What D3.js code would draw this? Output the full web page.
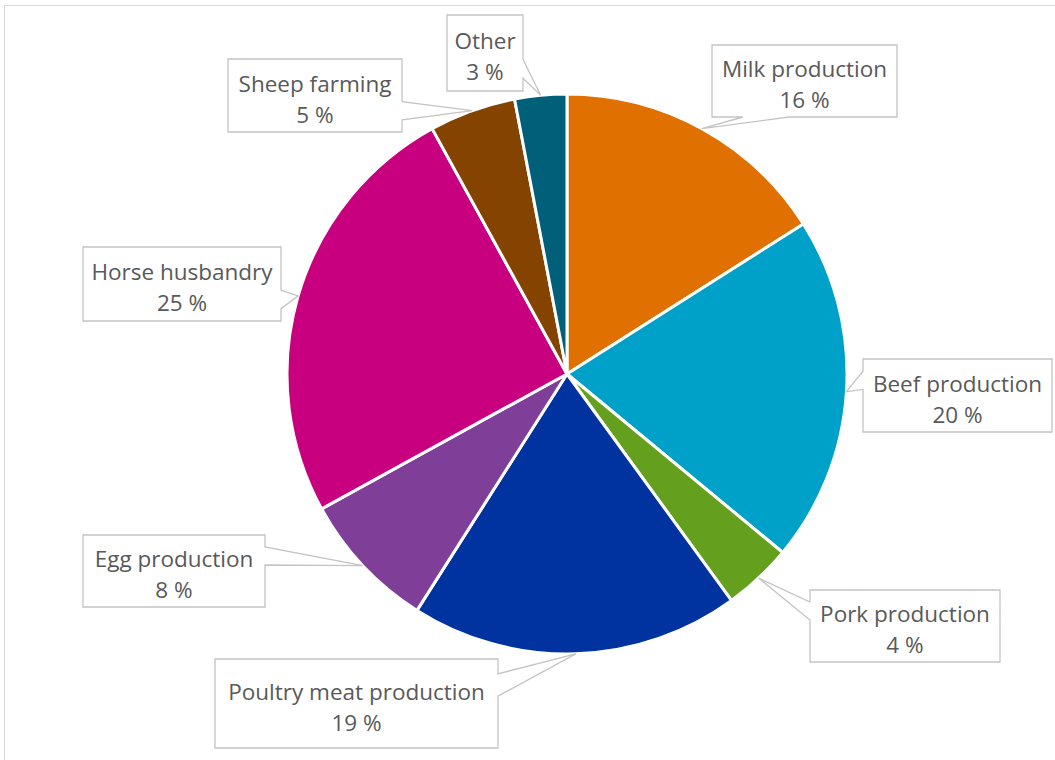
<!DOCTYPE html>
<html>
<head>
<meta charset="utf-8">
<script src="https://cdn.jsdelivr.net/npm/d3@7/dist/d3.min.js"></script>
<style>
  html, body { margin: 0; padding: 0; background: #fff; }
  svg { display: block; }
  text { font-family: "Open Sans", "Noto Sans", sans-serif; fill: #595959; }
</style>
</head>
<body>
<svg id="chart" width="1055" height="760"></svg>
<script>
// Share of holdings by production line (%)
const categories = [
  "Milk production", "Beef production", "Pork production", "Poultry meat production",
  "Egg production", "Horse husbandry", "Sheep farming", "Other"
];
const shares = [16, 20, 4, 19, 8, 25, 5, 3];
const sliceColors = ["#E07000", "#00A1C9", "#64A01E", "#0033A0", "#7F3F98", "#C8007F", "#844400", "#005F79"];

// Callout box placement [x, y, width, height], same order as categories
const calloutBoxes = [
  [712, 45, 185, 72],
  [863, 359, 189, 73],
  [810, 590, 190, 72],
  [215, 659, 283, 89],
  [83, 535, 182, 72],
  [83, 247, 198, 74],
  [228, 59, 174, 73],
  [447, 15, 76, 76]
];

const svg = d3.select("#chart");
const cx = 567, cy = 374, radius = 280;

// chart area frame
svg.append("rect")
  .attr("x", 4.5).attr("y", 5.5)
  .attr("width", 1200).attr("height", 900)
  .attr("fill", "none").attr("stroke", "#d9d9d9").attr("stroke-width", 1);

const data = categories.map((c, i) => ({ name: c, value: shares[i], color: sliceColors[i], box: calloutBoxes[i] }));

const pie = d3.pie().value(d => d.value).sort(null).startAngle(0).endAngle(2 * Math.PI);
const arcs = pie(data);
const arc = d3.arc().innerRadius(0).outerRadius(radius);

const g = svg.append("g").attr("transform", `translate(${cx},${cy})`);
g.selectAll("path.slice")
  .data(arcs)
  .join("path")
  .attr("class", "slice")
  .attr("d", arc)
  .attr("fill", d => d.data.color)
  .attr("stroke", "#fff")
  .attr("stroke-width", 3)
  .attr("stroke-linejoin", "round");

// Rectangular callout with a wedge pointing at the slice edge (wedgeRectCallout geometry)
function calloutPath(box, ax, ay) {
  const [x, y, w, h] = box;
  const hc = x + w / 2, vc = y + h / 2;
  const dx = ax - hc, dy = ay - vc;
  const dq = dx * h / w;
  const vertical = Math.abs(dy) > Math.abs(dq);
  const x1 = x + w * (dx > 0 ? 7 : 2) / 12, x2 = x + w * (dx > 0 ? 10 : 5) / 12;
  const y1 = y + h * (dy > 0 ? 7 : 2) / 12, y2 = y + h * (dy > 0 ? 10 : 5) / 12;
  const p = d3.path();
  p.moveTo(x, y);
  if (vertical && dy < 0) { p.lineTo(x1, y); p.lineTo(ax, ay); p.lineTo(x2, y); }
  p.lineTo(x + w, y);
  if (!vertical && dx > 0) { p.lineTo(x + w, y1); p.lineTo(ax, ay); p.lineTo(x + w, y2); }
  p.lineTo(x + w, y + h);
  if (vertical && dy > 0) { p.lineTo(x2, y + h); p.lineTo(ax, ay); p.lineTo(x1, y + h); }
  p.lineTo(x, y + h);
  if (!vertical && dx < 0) { p.lineTo(x, y2); p.lineTo(ax, ay); p.lineTo(x, y1); }
  p.closePath();
  return p.toString();
}

const labels = svg.append("g").selectAll("g.callout")
  .data(arcs)
  .join("g")
  .attr("class", "callout");

labels.append("path")
  .attr("d", d => {
    const mid = (d.startAngle + d.endAngle) / 2;
    const ax = cx + radius * Math.sin(mid);
    const ay = cy - radius * Math.cos(mid);
    return calloutPath(d.data.box, ax, ay);
  })
  .attr("fill", "#fff")
  .attr("stroke", "#c4c4c4")
  .attr("stroke-width", 1.3)
  .attr("stroke-linejoin", "miter");

labels.append("text")
  .attr("text-anchor", "middle")
  .attr("font-size", 22.5)
  .each(function (d) {
    const [x, y, w, h] = d.data.box;
    const t = d3.select(this);
    t.append("tspan").attr("x", x + w / 2).attr("y", y + h / 2 - 4).text(d.data.name);
    t.append("tspan").attr("x", x + w / 2).attr("y", y + h / 2 + 27).text(`${d.data.value} %`);
  });
</script>
</body>
</html>
